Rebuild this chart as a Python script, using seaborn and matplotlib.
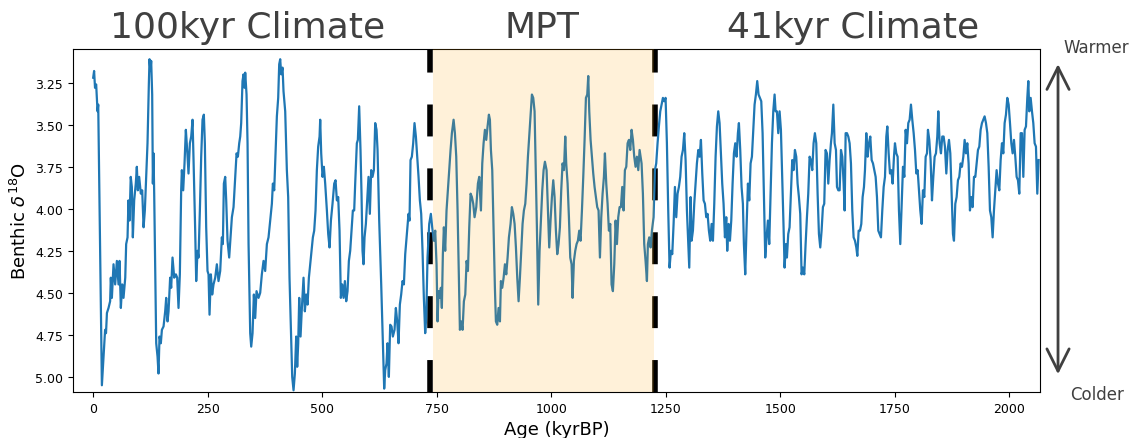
import matplotlib
matplotlib.use("Agg")
import matplotlib.pyplot as plt
import seaborn as sns
import pandas as pd

# ---- data ----
age = [
 0,2,4,6.5,9.5,11,19,22.5,26,28,30,33.5,37,38.5,40.8,44.4,48,51.7,55.3,57.5,60.4,63.3,66.2,70,72,75,77,79.3,82,84.4,86.6,89.5,93,95.3,97.5,100.4,104,107,110,112.8,118.6,121.5,123,125,126.6,128.8,130.3,131.7,133.2,137.6,140.5,142.6,144.8,147.7,150,153.6,157.2,159.4,162.3,
 164.5,168,170.3,173.2,176.9,180.5,183.4,186.3,189.2,192.1,193.6,196.5,199.4,202.3,205.2,208.1,211.1,214,216.9,219.1,222.7,224.9,227.8,230,232.9,235.8,238.7,241.6,243.8,246.7,249.6,251.8,254,256.9,259.8,262.7,266.4,270,273.6,277.3,280.9,283.1,285.3,288.2,290.4,293.3,296.9,299.9,302.8,306.4,310,313,315.9,318.8,321,323.1,326,328.2,330.4,331.9,334.8,337,339.2,342.8,345,347.9,350.8,353.7,356.6,361,
 364.6,368.2,371.9,375.5,379.2,382.8,386.4,390.1,392.3,395.2,398.1,401,403.9,406.1,408.3,410.5,413.4,415.5,419.2,422.8,425.7,428.6,431.6,434.5,437.4,440.3,443.2,445.4,447.6,449.8,452.7,455.6,459.2,462.1,465,468,470.9,473.8,476.7,479.6,482.5,485.4,488.3,491.2,494.2,495.6,497.8,500.7,503.6,506.5,510.2,513.1,516,519,522.5,526.2,529.1,532,534.9,537.8,540.7,543.6,546.6,549.5,552.4,555.3,558.2,561.1,564,566.9,569.8,
 572,575.6,577.8,580.7,583.6,585.8,588,590.2,592.4,595.3,598.2,601.1,604,606.9,609.8,612.8,615.7,618.6,620.8,624.4,628.8,632.4,635.3,637.5,640.4,642.6,645.5,648.4,651.3,654.2,657.9,660.8,663.7,666.6,669.5,672.4,675.3,678.3,681.2,684.8,688.4,690.6,692.8,695.7,698.6,701.5,704.5,707.4,710.3,713.2,716.1,719,721.9,724.8,727,729.9,733.6,737.2,740.1,743.8,746.7,749.6,751.8,754,756.9,759,761.2,763.4,765.6,768.5,771.4,774.3,777.2,
 780.2,783.1,786.8,789.7,792.6,795.5,798.4,800.6,803.5,806.4,809.3,812.3,815.2,818.1,821,823.9,826.8,829.7,832.6,836.3,839.9,842.8,846.5,849.4,852.3,855.2,858.1,861,863.9,866.1,868.3,871.2,874.1,877,879.2,882.1,885,888,890.1,893,896,898.9,901.8,904.7,907.6,911.2,914.1,917.1,920,922.9,925.8,928.7,931.6,934.5,937.4,940.3,943.3,946.2,949.1,952,954.9,957.8,960.7,963.6,965.8,968.7,971.6,974.5,977.5,980.4,983.3,986.2,
 989.8,992.7,995.6,998.5,1001.5,1004.4,1007.3,1010.2,1013.1,1016,1018.9,1021.8,1024.7,1027.7,1030.6,1032.7,1035.7,1038.6,1041.5,1044.4,1046.6,1049.5,1052.4,1055.3,1058.2,1061.1,1064,1067,1069.9,1072.8,1075.7,1078.6,1080.8,1083,1085.9,1088.8,1091.7,1094.6,1097.5,1100.4,1103.3,1106.3,1109.2,1112.1,1115,1117.2,1120.1,1123,1125.9,1128.8,1131.7,1134.6,1137.6,1140.5,1143.4,1146.3,1149.2,1152.1,1155,1157.9,1160.8,1163.8,1166.7,1169.6,1172.5,1175.4,1178.3,1181.2,1184.1,1187,1190,1192.9,
 1197.2,1200.1,1203,1205.9,1208.9,1211,1213.9,1216.9,1219.8,1223.4,1226.3,1229.2,1232.1,1235,1238,1240.9,1243.8,1246.7,1249.6,1252.5,1255.4,1258.3,1261.3,1264.2,1267.1,1270,1272.9,1275.8,1278.7,1281.6,1284.5,1287.5,1290.4,1293.3,1296.2,1299.1,1301.3,1304.2,1306.4,1309.3,1312.2,1315.1,1318,1321,1323.9,1326.8,1329.7,1332.6,1335.5,1338.4,1341.3,1344.2,1347.1,1350.1,1353,1355.9,1358.8,1361.7,1364.6,1367.5,1370.4,1373.3,1376.2,1379.2,1382.1,1384.2,1387.2,1390.1,1393,1395.9,1398.8,
 1401.7,1404.6,1407.5,1409.7,1412.6,1415.5,1418.4,1420.6,1423.5,1426.4,1429.4,1432.3,1435.2,1438.1,1441,1443.9,1446.8,1449.7,1452.6,1455.6,1458.5,1461.4,1464.3,1467.2,1470.1,1473,1475.9,1478.8,1481.8,1484.7,1487.6,1489.8,1492.7,1495.6,1498.5,1501.4,1504.3,1507.2,1509.4,1512.3,1514.5,1517.4,1520.3,1523.2,1526.1,1529.1,1532,1534.9,1537.8,1540.7,1543.6,1546.5,1549.4,1552.4,1555.3,1558.2,1561.1,1564,1566.9,1569.8,1572.7,1575.6,1578.6,1581.5,1584.4,1587.3,1590.2,1593.1,1596,1598.9,1601.8,1604.8,1607.7,
 1610.6,1612.8,1615.8,1618.7,1621.6,1623.8,1626.7,1629.6,1632.5,1635.4,1638.3,1640.5,1642.7,1645.6,1648.5,1651.4,1654.3,1657.2,1660.1,1663.1,1666,1668.2,1671.1,1674,1676.9,1679.8,1682.7,1684.9,1687.8,1690.7,1693.6,1696.5,1699.5,1702.4,1705.3,1708.2,1711.1,1714,1716.9,1719.8,1722.7,1725.7,1728.6,1731.5,1733.7,1736.6,1739.5,1742.4,1745.3,1748.2,1750.4,1753.3,1756.2,1759.1,1762,1765,1767.9,1770.8,1773.7,1776.6,1779.5,1782.4,1785.3,1788.2,1791.2,1794.1,1797,1799.9,1802.8,1805.7,1808.6,1811.5,1814.4,
 1817.4,1820.3,1822.4,1825.3,1828.2,1831.2,1834.1,1837,1839.9,1842.8,1845,1847.9,1850.8,1853.7,1856.6,1859.5,1862.5,1865.4,1868.3,1871.2,1874.1,1877,1879.2,1882.1,1885,1887.9,1890.8,1893.7,1896.7,1899.6,1902.5,1905.4,1908.3,1911.2,1914.1,1917,1919.9,1922.9,1925.8,1928.7,1931.6,1934.5,1937.4,1940.3,1943.2,1946.1,1949.1,1952,1954.9,1957.8,1960.7,1963.6,1966.5,1969.4,1972.3,1975.3,1978.2,1981.1,1984,1986.9,1989.8,1992.7,1995.6,1998.6,2001.5,2004.4,2007.3,2010.2,2013.1,2016,2018.9,2021.8,2024.8,2027.7,2030.6,2033.5,2036.4,2039.3,2041.5,2043.7,2046.6,2049.5,2052.4,2055.3,2058.2,2061.1,2064,
]
d18o = [
 3.22,3.18,3.28,3.26,3.42,3.38,5.05,4.88,4.72,4.74,4.62,4.59,4.55,4.41,4.53,4.33,4.45,4.31,4.45,4.31,4.59,4.45,4.53,4.41,4.21,4.17,3.95,4.07,3.81,3.87,4.17,3.95,3.85,3.75,3.89,3.81,3.91,3.89,4.11,4.01,3.61,3.26,3.11,3.18,3.12,3.32,3.85,3.67,3.91,4.80,4.88,4.98,4.76,4.80,4.72,4.70,4.61,4.53,4.67,
 4.61,4.41,4.47,4.29,4.41,4.39,4.41,4.59,4.39,3.89,3.77,3.89,3.73,3.53,3.65,3.79,3.61,3.57,3.47,3.71,4.13,4.43,4.25,4.29,4.01,3.69,3.47,3.44,3.61,4.11,4.37,4.39,4.63,4.39,4.51,4.45,4.41,4.33,4.43,4.37,4.17,4.21,3.85,3.81,3.95,4.19,4.29,4.17,4.05,3.99,3.81,3.67,3.69,3.61,3.57,3.49,3.24,3.20,3.28,3.19,3.32,3.61,4.21,4.74,4.82,4.74,4.51,4.65,4.49,4.53,
 4.50,4.39,4.31,4.37,4.21,4.17,4.07,3.97,3.85,3.89,3.67,3.45,3.34,3.14,3.11,3.20,3.16,3.30,3.42,3.77,3.93,4.41,4.70,5.00,5.08,4.98,4.76,4.94,4.80,4.53,4.76,4.59,4.41,4.61,4.51,4.57,4.41,4.33,4.25,4.17,4.13,4.01,3.77,3.63,3.57,3.47,3.67,3.81,3.75,3.85,4.01,4.15,4.23,4.07,3.97,3.85,3.83,3.95,3.93,4.13,4.53,4.45,4.53,4.43,4.55,4.49,4.31,4.25,4.13,4.01,4.01,
 3.85,3.61,3.59,3.39,3.65,3.91,4.25,4.33,4.17,4.09,3.95,3.81,4.03,3.77,3.81,3.77,3.49,3.53,3.65,4.07,4.45,4.80,5.07,4.96,4.92,4.80,5.00,4.69,4.70,4.76,4.72,4.59,4.67,4.80,4.57,4.51,4.43,4.45,4.27,4.15,4.03,4.07,3.71,3.69,3.61,3.49,3.57,3.69,3.81,3.95,4.03,4.25,4.53,4.74,4.65,4.29,4.09,4.03,4.11,4.19,4.13,4.33,4.67,4.49,4.53,4.47,4.59,4.27,4.11,4.25,4.01,3.89,3.77,
 3.65,3.55,3.47,3.55,3.69,4.01,4.41,4.72,4.67,4.72,4.55,4.51,4.31,4.37,4.11,3.91,3.93,3.97,4.05,3.99,3.85,3.81,4.01,3.73,3.61,3.53,3.59,3.51,3.44,3.47,3.65,3.77,4.13,4.47,4.67,4.69,4.59,4.67,4.43,4.47,4.41,4.33,4.39,4.29,4.17,4.09,3.99,4.03,4.09,4.23,4.41,4.55,4.41,4.25,4.09,4.01,3.97,3.85,3.69,3.57,3.45,3.32,3.34,3.42,3.71,4.11,4.57,4.25,4.07,3.89,3.77,3.72,
 3.77,4.01,4.23,4.07,3.93,3.83,3.93,4.13,4.27,4.21,4.11,3.89,3.73,3.77,3.57,3.73,3.85,4.05,4.29,4.33,4.53,4.31,4.25,4.21,4.19,4.13,4.19,4.01,3.81,3.59,3.34,3.32,3.21,3.42,3.59,3.69,3.79,3.87,3.93,3.99,4.01,4.29,4.05,3.91,3.81,3.67,3.85,3.97,4.13,4.09,4.45,4.49,4.33,4.07,4.21,4.05,3.99,3.99,3.87,4.01,3.77,3.75,3.61,3.59,3.65,3.53,3.59,3.69,3.75,3.69,3.77,3.65,
 3.73,3.91,4.21,4.31,4.43,4.21,4.17,4.23,4.13,4.05,3.77,3.73,3.61,3.51,3.42,3.38,3.34,3.36,3.34,3.61,4.01,4.35,4.25,4.27,4.09,3.87,4.05,3.91,3.87,3.81,3.69,3.65,3.55,3.71,4.01,4.21,4.35,3.93,4.19,4.13,3.97,3.85,3.73,3.65,3.69,3.59,3.79,3.95,3.97,4.05,4.03,4.13,4.19,4.09,4.19,3.97,3.69,3.51,3.42,3.49,3.67,3.85,3.97,4.17,4.05,4.25,4.09,4.19,4.07,3.85,3.67,
 3.61,3.69,3.55,3.49,3.65,3.87,3.97,4.21,4.39,4.11,3.85,3.95,3.73,3.69,3.53,3.38,3.32,3.24,3.32,3.34,3.36,3.55,3.91,4.29,4.17,4.07,4.21,3.91,3.61,3.42,3.32,3.42,3.42,3.55,3.42,3.53,3.81,4.11,4.35,4.21,4.29,4.15,4.11,3.91,3.71,3.77,3.65,3.69,3.85,3.93,4.03,4.39,4.35,4.39,4.21,4.05,3.91,3.69,3.71,3.77,3.61,3.55,3.61,3.91,4.15,4.23,4.13,3.99,3.97,3.65,3.67,3.85,3.71,
 3.61,3.55,3.38,3.61,3.65,3.87,3.89,3.89,3.65,3.69,3.85,4.01,3.55,3.55,3.57,3.61,3.73,4.01,4.17,4.19,4.23,4.28,4.13,4.13,4.09,3.93,3.87,3.77,3.55,3.69,3.61,3.57,3.71,3.73,3.77,3.81,3.93,4.13,4.15,4.17,4.01,3.87,3.81,3.57,3.51,3.67,3.79,3.77,3.85,3.69,3.61,3.67,3.69,4.01,4.21,3.97,3.75,3.81,3.53,3.61,3.49,3.47,3.38,3.47,3.55,3.65,3.79,3.77,3.89,4.01,4.09,3.89,3.93,
 3.69,3.67,3.53,3.59,3.71,3.95,3.81,3.69,3.67,3.57,3.42,3.61,3.67,3.57,3.57,3.63,3.79,3.65,3.59,3.67,3.91,4.15,4.19,3.97,3.93,3.83,3.81,3.73,3.75,3.69,3.59,3.67,3.61,3.73,4.01,3.93,3.99,3.81,3.81,3.73,3.65,3.63,3.53,3.49,3.47,3.45,3.49,3.55,3.75,4.01,4.05,4.17,4.01,3.89,3.77,3.85,3.89,3.71,3.61,3.67,3.49,3.44,3.34,3.38,3.49,3.61,3.67,3.59,3.69,3.81,3.83,3.91,3.55,3.55,3.81,3.53,3.51,3.34,3.24,3.42,3.34,3.42,3.49,3.61,3.63,3.91,3.71,
]
x_ticks = [0, 250, 500, 750, 1000, 1250, 1500, 1750, 2000]
y_ticks = [3.25, 3.50, 3.75, 4.00, 4.25, 4.50, 4.75, 5.00]
regime_labels = ["100kyr Climate", "MPT", "41kyr Climate"]
mpt_bounds = [736, 1226]
mpt_span = [742, 1225]

df = pd.DataFrame({"age": age, "d18O": d18o})

fig = plt.figure(figsize=(11.34, 4.39), dpi=100)
ax = fig.add_axes([0.0644, 0.1048, 0.8527, 0.781])

sns.lineplot(data=df, x="age", y="d18O", ax=ax, color="#1f77b4", lw=1.6,
             sort=False, estimator=None)

for xb in mpt_bounds:
    ax.axvline(xb, color="black", lw=4, linestyle=(0, (5.75, 5.75)), zorder=1)
ax.axvspan(mpt_span[0], mpt_span[1], color="orange", alpha=0.15, lw=0, zorder=3)

ax.set_xlim(-44, 2067)
ax.set_ylim(5.09, 3.05)
ax.set_xticks(x_ticks)
ax.set_yticks(y_ticks)
ax.set_yticklabels([f"{v:.2f}" for v in y_ticks])
ax.tick_params(labelsize=9)
ax.set_xlabel("Age (kyrBP)", fontsize=13)
ax.set_ylabel(r"Benthic $\delta^{18}$O", fontsize=13)

title_color = "#404040"
for lab, xf in zip(regime_labels, [0.2187, 0.478, 0.752]):
    fig.text(xf, 0.913, lab, ha="center", va="baseline", fontsize=26, color=title_color)

fig.text(0.967, 0.891, "Warmer", ha="center", va="center", fontsize=12, color=title_color)
fig.text(0.967, 0.100, "Colder", ha="center", va="center", fontsize=12, color=title_color)
ax.annotate("", xy=(0.933, 0.858), xytext=(0.933, 0.139),
            xycoords="figure fraction", textcoords="figure fraction",
            arrowprops=dict(arrowstyle="<->,head_length=0.4,head_width=0.2",
                            mutation_scale=40, lw=2, color=title_color),
            annotation_clip=False)

fig.savefig("out.png", dpi=100)
